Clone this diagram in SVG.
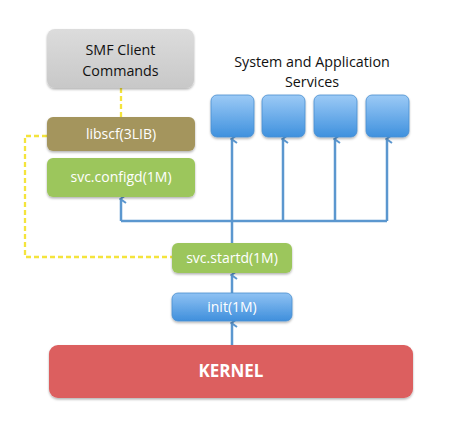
<svg xmlns="http://www.w3.org/2000/svg" width="452" height="439" viewBox="0 0 452 439">
<defs>
<linearGradient id="gGray" x1="0" y1="0" x2="0" y2="1"><stop offset="0" stop-color="#dcdcdc"/><stop offset="1" stop-color="#c8c8c8"/></linearGradient>
<linearGradient id="gBlue" x1="0" y1="0" x2="0" y2="1"><stop offset="0" stop-color="#9ccaf6"/><stop offset="1" stop-color="#3f91de"/></linearGradient>
<linearGradient id="gBlue2" x1="0" y1="0" x2="0" y2="1"><stop offset="0" stop-color="#8fc2f3"/><stop offset="1" stop-color="#3f8fdc"/></linearGradient>
<filter id="sh" x="-10%" y="-10%" width="120%" height="130%"><feDropShadow dx="0" dy="1.5" stdDeviation="1.2" flood-color="#000" flood-opacity="0.3"/></filter>
<marker id="ah" markerWidth="10" markerHeight="10" refX="5" refY="2" orient="auto-start-reverse" markerUnits="userSpaceOnUse" viewBox="0 0 10 10">
<path d="M1,7 L5,1.5 L9,7" fill="none" stroke="#5b97cf" stroke-width="2"/>
</marker>
</defs>
<style>
.t{font-family:"Open Sans","Liberation Sans",sans-serif;text-anchor:middle;}
.w{fill:#ffffff;font-size:14px;}
.k{fill:#111111;font-size:14.3px;}
.c{fill:none;stroke:#5b97cf;stroke-width:2.5;}
.y{fill:none;stroke:#f4e43c;stroke-width:2.3;stroke-dasharray:5,3;}
</style>
<g id="connectors">
<path class="y" d="M121,88 V117"/>
<path class="y" d="M47,136 H25 V257 H172"/>
<path class="c" d="M232,243 V139" marker-end="url(#ah)"/>
<path class="c" d="M121,221 H387"/>
<path class="c" d="M121,221 V199" marker-end="url(#ah)"/>
<path class="c" d="M283,221 V139" marker-end="url(#ah)"/>
<path class="c" d="M335,221 V139" marker-end="url(#ah)"/>
<path class="c" d="M387,221 V139" marker-end="url(#ah)"/>
<path class="c" d="M232,293 V275" marker-end="url(#ah)"/>
<path class="c" d="M232,345 V323" marker-end="url(#ah)"/>
</g>
<g id="smf"><rect x="47" y="29" width="147" height="59" rx="8" fill="url(#gGray)" filter="url(#sh)"/>
<text class="t k" x="120.5" y="55">SMF Client</text><text class="t k" x="120.5" y="76">Commands</text></g>
<g id="libscf"><rect x="47" y="117" width="148" height="34" rx="6" fill="#a4955d" filter="url(#sh)"/>
<text class="t w" x="121" y="139">libscf(3LIB)</text></g>
<g id="configd"><rect x="47" y="158" width="148" height="39" rx="6" fill="#9cc65b" filter="url(#sh)"/>
<text class="t w" x="121" y="182">svc.configd(1M)</text></g>
<g id="services-label"><text class="t k" x="312" y="67">System and Application</text><text class="t k" x="312" y="87">Services</text></g>
<g id="svc1"><rect x="211" y="95" width="43" height="42" rx="6" fill="url(#gBlue)" stroke="#4a8fd0" stroke-width="0.8" filter="url(#sh)"/></g>
<g id="svc2"><rect x="262" y="95" width="43" height="42" rx="6" fill="url(#gBlue)" stroke="#4a8fd0" stroke-width="0.8" filter="url(#sh)"/></g>
<g id="svc3"><rect x="314" y="95" width="43" height="42" rx="6" fill="url(#gBlue)" stroke="#4a8fd0" stroke-width="0.8" filter="url(#sh)"/></g>
<g id="svc4"><rect x="366" y="95" width="43" height="42" rx="6" fill="url(#gBlue)" stroke="#4a8fd0" stroke-width="0.8" filter="url(#sh)"/></g>
<g id="startd"><rect x="172" y="243" width="120" height="30" rx="6" fill="#9cc65b" filter="url(#sh)"/>
<text class="t w" x="232" y="263">svc.startd(1M)</text></g>
<g id="init"><rect x="172" y="293" width="120" height="28" rx="6" fill="url(#gBlue2)" stroke="#4a8fd0" stroke-width="0.8" filter="url(#sh)"/>
<text class="t w" x="232" y="312">init(1M)</text></g>
<g id="kernel"><rect x="49" y="345" width="364" height="53" rx="9" fill="#dc5e5e" filter="url(#sh)"/>
<text class="t w" x="231" y="377" style="font-size:17px;font-weight:bold">KERNEL</text></g>
</svg>
